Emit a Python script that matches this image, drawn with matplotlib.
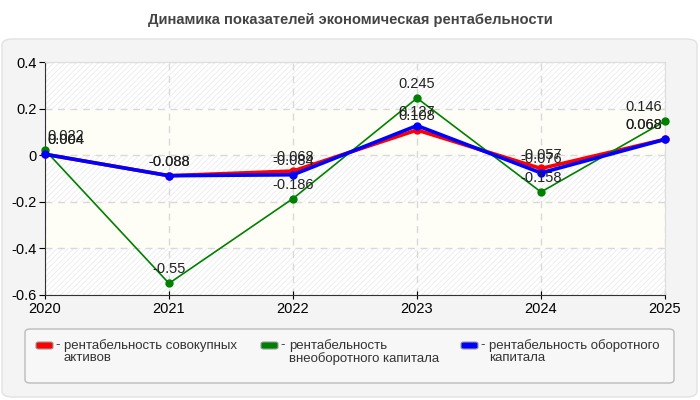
import matplotlib.pyplot as plt
from matplotlib.patches import FancyBboxPatch
import numpy as np

plt.rcParams['font.family'] = ['Liberation Sans', 'DejaVu Sans']

years = [2020, 2021, 2022, 2023, 2024, 2025]
series_names = ['рентабельность совокупных\nактивов',
                'рентабельность\nвнеоборотного капитала',
                'рентабельность оборотного\nкапитала']
roa = [0.004, -0.088, -0.068, 0.108, -0.057, 0.068]
ro_fixed = [0.022, -0.55, -0.186, 0.245, -0.158, 0.146]
ro_current = [0.004, -0.088, -0.084, 0.127, -0.076, 0.068]
yticks = [-0.6, -0.4, -0.2, 0, 0.2, 0.4]
ytick_labels = ['-0.6', '-0.4', '-0.2', '0', '0.2', '0.4']

colors = ['#ff0000', '#008000', '#0000ff']
widths = [2.6, 1.2, 2.6]

fig = plt.figure(figsize=(7, 4), dpi=100)
fig.patch.set_facecolor('white')

# grey rounded panel behind everything
panel = FancyBboxPatch((2/700, 3/400), 695/700, 358/400,
                       boxstyle='round,pad=0,rounding_size=0.015',
                       transform=fig.transFigure, facecolor='#f4f4f4',
                       edgecolor='#e2e2e2', linewidth=1, zorder=-10)
fig.patches.append(panel)

fig.text(0.5, 1 - 20/400, 'Динамика показателей экономическая рентабельности',
         ha='center', va='center', fontsize=10.6, fontweight='bold', color='#444444')

ax = fig.add_axes([45/700, 1 - 295/400, 620/700, 233/400])
ax.set_zorder(5)
ax.set_facecolor('white')
ax.set_xlim(years[0], years[-1])
ax.set_ylim(-0.6, 0.4)

# alternating bands
plt.rcParams['hatch.linewidth'] = 0.6
for i in range(len(yticks) - 1):
    lo, hi = yticks[i], yticks[i + 1]
    if i % 2 == 0:
        ax.axhspan(lo, hi, facecolor='white', edgecolor='#ececec',
                   hatch='//////', linewidth=0, zorder=0)
    else:
        ax.axhspan(lo, hi, facecolor='#fefef6', linewidth=0, zorder=0)

ax.grid(True, color='#d9d9d9', linestyle=(0, (5, 4)), linewidth=1)
ax.set_axisbelow(True)

data = [roa, ro_fixed, ro_current]
for vals, c, lw in zip(data, colors, widths):
    ax.plot(years, vals, color=c, linewidth=lw, marker='o', markersize=5, zorder=3,
            clip_on=False)
    for k, (x, y) in enumerate(zip(years, vals)):
        # keep edge labels inside the plot area
        if k == 0:
            ha, dx = 'left', 2
        elif k == len(years) - 1:
            ha, dx = 'right', -2
        else:
            ha, dx = 'center', 0
        ax.annotate(f'{y:g}', (x, y), xytext=(dx, 10), textcoords='offset points',
                    ha=ha, va='center', fontsize=10.5, color='#222222', zorder=4)

ax.set_xticks(years)
ax.set_yticks(yticks)
ax.set_yticklabels(ytick_labels)
ax.tick_params(axis='both', labelsize=10.5, colors='black', length=4, pad=2)
ax.tick_params(axis='x', direction='inout', length=6)
for s in ['top', 'right']:
    ax.spines[s].set_color('#dddddd')
for s in ['left', 'bottom']:
    ax.spines[s].set_color('#333333')

# legend box
leg = FancyBboxPatch((25/700, 1 - 383/400), 649/700, 54/400,
                     boxstyle='round,pad=0,rounding_size=0.008',
                     transform=fig.transFigure, facecolor='#f7f7f7',
                     edgecolor='#bbbbbb', linewidth=1, zorder=1)
fig.patches.append(leg)
patch_x = [36, 261, 461]
for px, name, c in zip(patch_x, series_names, colors):
    sw = FancyBboxPatch(((px) / 700, 1 - 349/400), 17/700, 7/400,
                        boxstyle='round,pad=0,rounding_size=0.004',
                        transform=fig.transFigure, facecolor=c,
                        edgecolor='#999999', linewidth=0.8, zorder=2)
    fig.patches.append(sw)
    fig.text((px + 20) / 700, 1 - 345/400, '- ', fontsize=9.5, color='#333333',
             va='center', ha='left')
    fig.text((px + 28) / 700, 1 - 339/400, name, fontsize=9.5, color='#333333',
             va='top', ha='left', linespacing=1.05)

fig.savefig('out.png', dpi=100)
